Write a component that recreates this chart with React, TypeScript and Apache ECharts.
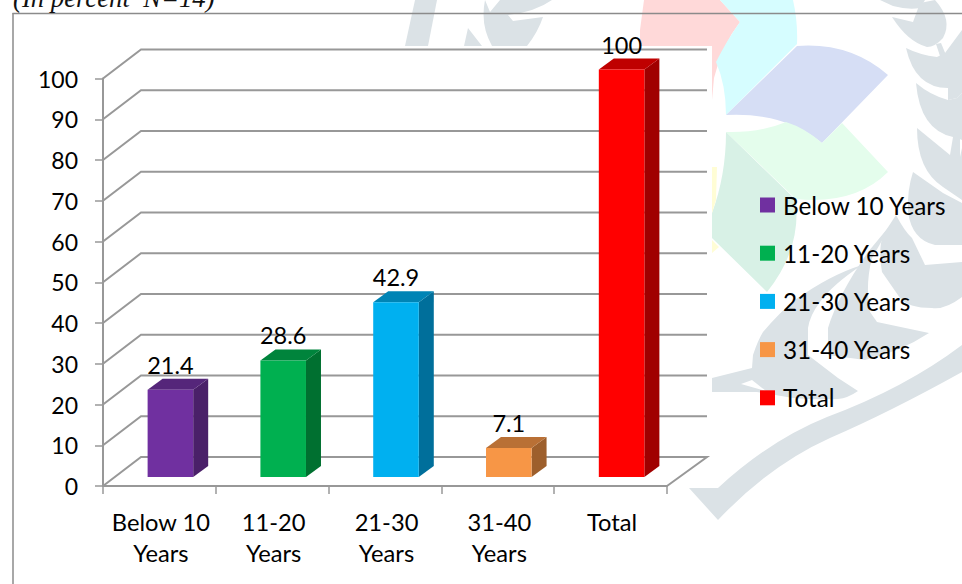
import React, { useEffect, useRef } from "react";
import * as echarts from "echarts";

const categories = ["Below 10 Years", "11-20 Years", "21-30 Years", "31-40 Years", "Total"];
const values = [21.4, 28.6, 42.9, 7.1, 100];
const yTicks = [0, 10, 20, 30, 40, 50, 60, 70, 80, 90, 100];
const frontColors = ["#7030a0", "#00b050", "#00b0f0", "#f79646", "#ff0000"];
const topColors = ["#55267a", "#00843c", "#0084b5", "#b97035", "#bf0000"];
const sideColors = ["#4a2069", "#007030", "#006f9b", "#9d5f2c", "#a00000"];
const caption = "(In percent  N=14)";

const FONT = "Lato, Carlito, sans-serif";
const WALL_DX = 38;
const WALL_DY = -29;

const wash: [string, string, string][] = [
  ["wPink", "#ffd9d9", "M644 0 L720 0 L740 22 Q722 45 714 78 L712 100 L640 100 L640 30 Z"],
  ["wCyan", "#d6fdff", "M720 0 L793 0 Q798 22 797 44 L726 115 Q726 85 716 62 Q727 40 740 22 Z"],
  ["wPeri", "#d6def5", "M726 115 L797 46 Q850 42 888 75 L822 143 Q785 112 726 115 Z"],
  ["wLight", "#e4fdec", "M726 132 Q760 133 786 122 Q805 128 822 143 L842 123 L888 172 Q855 205 796 199 Z"],
  ["wDark", "#d8f1e6", "M726 132 L796 200 Q801 250 767 292 L712 238 L712 213 Q726 175 726 132 Z"],
  ["wYellow", "#fffdd5", "M712 167 L717 167 L716 200 L712 213 Z M712 240 L719 247 L712 253 Z"],
];

const grey = "#dbe2e6";
const leaves: [string, string][] = [
  ["gStem", "M689 488 L718 488 Q770 440 827 417 Q905 388 962 345 L962 372 Q890 412 830 438 Q770 465 718 520 Z"],
  ["gTop1", "M415 0 L437 0 L428 46 L405 46 Z"],
  ["gTop2", "M464 46 L468 28 L482 46 Z M485 0 Q480 25 492 46 L527 46 Q538 32 543 17 L513 21 L508 15 Q535 12 552 0 L500 0 L490 12 Z"],
  ["gA", "M880 0 L893 6 Q908 10 920 8 L925 0 Z"],
  ["gB", "M892 17 L913 22 L920 3 L935 0 Q953 20 943 38 Q935 47 927 47 Q908 42 892 17 Z"],
  ["gStem1", "M936 44 L941 43 L946 55 L941 59 Z"],
  ["gC", "M906 48 Q920 55 937 57 L945 53 L962 30 L962 93 L957 98 L948 100 L948 88 Q915 88 906 48 Z"],
  ["gD", "M916 83 Q930 95 948 100 L957 98 L962 93 L962 140 L955 137 L953 137 Q920 130 916 83 Z"],
  ["gE", "M917 128 L950 155 L953 137 L960 137 L960 157 L962 148 L962 200 L943 187 Q917 170 917 128 Z"],
  ["gF", "M913 172 L943 193 L962 203 L962 245 L935 245 Q912 240 908 212 Q907 190 913 172 Z"],
  ["gL3", "M883 235 L896 215 Q905 232 912 238 L925 265 L962 262 L962 297 Q945 310 932 308 Q908 308 900 298 L882 272 Q878 250 883 235 Z"],
  ["gL2", "M828 328 Q838 295 868 252 L892 223 L872 258 Q865 285 870 312 L877 322 L929 333 Q900 352 865 360 L828 355 Z"],
  ["gL1", "M712 378 L752 368 L753 355 Q758 340 763 332 Q780 312 795 300 Q830 275 862 265 Q832 285 820 302 Q810 315 808 328 L808 355 L838 378 L858 391 Q848 398 838 399 Q815 400 793 398 L757 392 L712 392 Z"],
];
const whiteCuts: [string, string][] = [
  ["cA", "M741 384 L752 380 L766 391 Z"],
];

[...wash.map((w) => [w[0], w[2]]), ...leaves, ...whiteCuts].forEach(([n, d]) => {
  echarts.graphic.registerShape(n, echarts.graphic.extendPath(d, {}) as any);
});

function gridItem(params: any, api: any) {
  const v = api.value(0);
  const cs = params.coordSys;
  const y = api.coord([0, v])[1];
  const style = { stroke: "#989898", lineWidth: 2, fill: "none" };
  return {
    type: "polyline",
    shape: {
      points: [
        [cs.x, y],
        [cs.x + WALL_DX, y + WALL_DY],
        [cs.x + cs.width + WALL_DX + 2, y + WALL_DY],
        ...(v === 0 ? [[cs.x + cs.width, y]] : []),
      ],
    },
    style,
  };
}

function barItem(params: any, api: any) {
  const i = api.value(0);
  const v = api.value(1);
  const p = api.coord([i, v]);
  const base = api.coord([i, 0]);
  const w = api.size([1, 0])[0] * 0.404;
  const cx = p[0] + 11;
  const x0 = cx - w / 2;
  const x1 = cx + w / 2;
  const yTop = p[1] - 9;
  const yBot = base[1] - 9;
  const dx = 15;
  const dy = -11;
  return {
    type: "group",
    children: [
      { type: "polygon", shape: { points: [[x1, yTop], [x1 + dx, yTop + dy], [x1 + dx, yBot + dy], [x1, yBot]] }, style: { fill: sideColors[i] } },
      { type: "polygon", shape: { points: [[x0, yTop], [x0 + dx, yTop + dy], [x1 + dx, yTop + dy], [x1, yTop]] }, style: { fill: topColors[i] } },
      { type: "rect", shape: { x: x0, y: yTop, width: w, height: yBot - yTop }, style: { fill: frontColors[i] } },
      {
        type: "text",
        style: {
          x: cx,
          y: yTop - 25,
          text: String(v),
          fill: "#000",
          font: `23.5px ${FONT}`,
          align: "center",
          verticalAlign: "middle",
        },
      },
    ],
  };
}

export default function App() {
  const ref = useRef<HTMLDivElement>(null);
  useEffect(() => {
    const chart = echarts.init(ref.current!, undefined, { renderer: "svg" });
    const shape = (n: string, fill: string, z: number) => ({ type: n, x: 0, y: 0, z, silent: true, style: { fill } });
    chart.setOption({
      animation: false,
      backgroundColor: "#ffffff",
      textStyle: { fontFamily: FONT },
      graphic: [
        ...wash.map((w) => shape(w[0], w[1], -5)),
        ...leaves.map((l) => shape(l[0], grey, -5)),
        ...whiteCuts.map((c) => shape(c[0], "#ffffff", -4)),
        { type: "rect", z: -3, shape: { x: 14, y: 46, width: 698, height: 442 }, style: { fill: "#ffffff" }, silent: true },
        { type: "line", z: -2, shape: { x1: 12.5, y1: 13.5, x2: 962, y2: 13.5 }, style: { stroke: "#8b8b8b", lineWidth: 1.5 }, silent: true },
        { type: "line", z: -2, shape: { x1: 13, y1: 13, x2: 13, y2: 584 }, style: { stroke: "#8b8b8b", lineWidth: 1.5 }, silent: true },
        { type: "text", z: -2, style: { x: 13, y: 11, text: caption, fill: "#111", font: "italic 26.7px 'Liberation Serif', serif", align: "left", verticalAlign: "bottom" } },
      ],
      legend: {
        orient: "vertical",
        left: 755,
        top: 188,
        itemWidth: 15,
        itemHeight: 15,
        itemGap: 24.2,
        icon: "rect",
        data: categories,
        selectedMode: false,
        textStyle: { fontFamily: FONT, fontSize: 24.3, color: "#000", padding: [0, 0, 0, 3], lineHeight: 23 },
      },
      grid: { left: 103, top: 78.5, width: 564, height: 407.5 },
      xAxis: {
        type: "category",
        data: categories,
        z: 10,
        axisLine: { lineStyle: { color: "#989898", width: 2 } },
        axisTick: { show: true, alignWithLabel: false, length: 8, lineStyle: { color: "#989898", width: 1.5 } },
        axisLabel: {
          interval: 0,
          margin: 20,
          color: "#000",
          fontFamily: FONT,
          fontSize: 23.7,
          lineHeight: 31,
          padding: [0, 0, 0, 3],
          formatter: (s: string) => s.replace(" Years", "\nYears"),
        },
      },
      yAxis: {
        type: "value",
        min: 0,
        max: 100,
        interval: 10,
        z: 10,
        splitLine: { show: false },
        axisLine: { show: true, lineStyle: { color: "#989898", width: 2 } },
        axisTick: { show: true, length: 8, lineStyle: { color: "#989898", width: 1.5 } },
        axisLabel: { margin: 25, color: "#000", fontFamily: FONT, fontSize: 23 },
      },
      series: [
        {
          type: "custom",
          name: "walls",
          z: 3,
          silent: true,
          renderItem: gridItem,
          data: yTicks.map((t) => [t]),
          encode: { y: 0 },
        },
        ...categories.map((name, i) => ({
          type: "custom",
          name,
          z: 5,
          silent: true,
          itemStyle: { color: frontColors[i] },
          renderItem: barItem,
          data: [[i, values[i]]],
          encode: { x: 0, y: 1 },
        })),
      ],
    });
    return () => chart.dispose();
  }, []);
  return <div ref={ref} style={{ position: "fixed", left: 0, top: 0, width: 962, height: 584 }} />;
}
